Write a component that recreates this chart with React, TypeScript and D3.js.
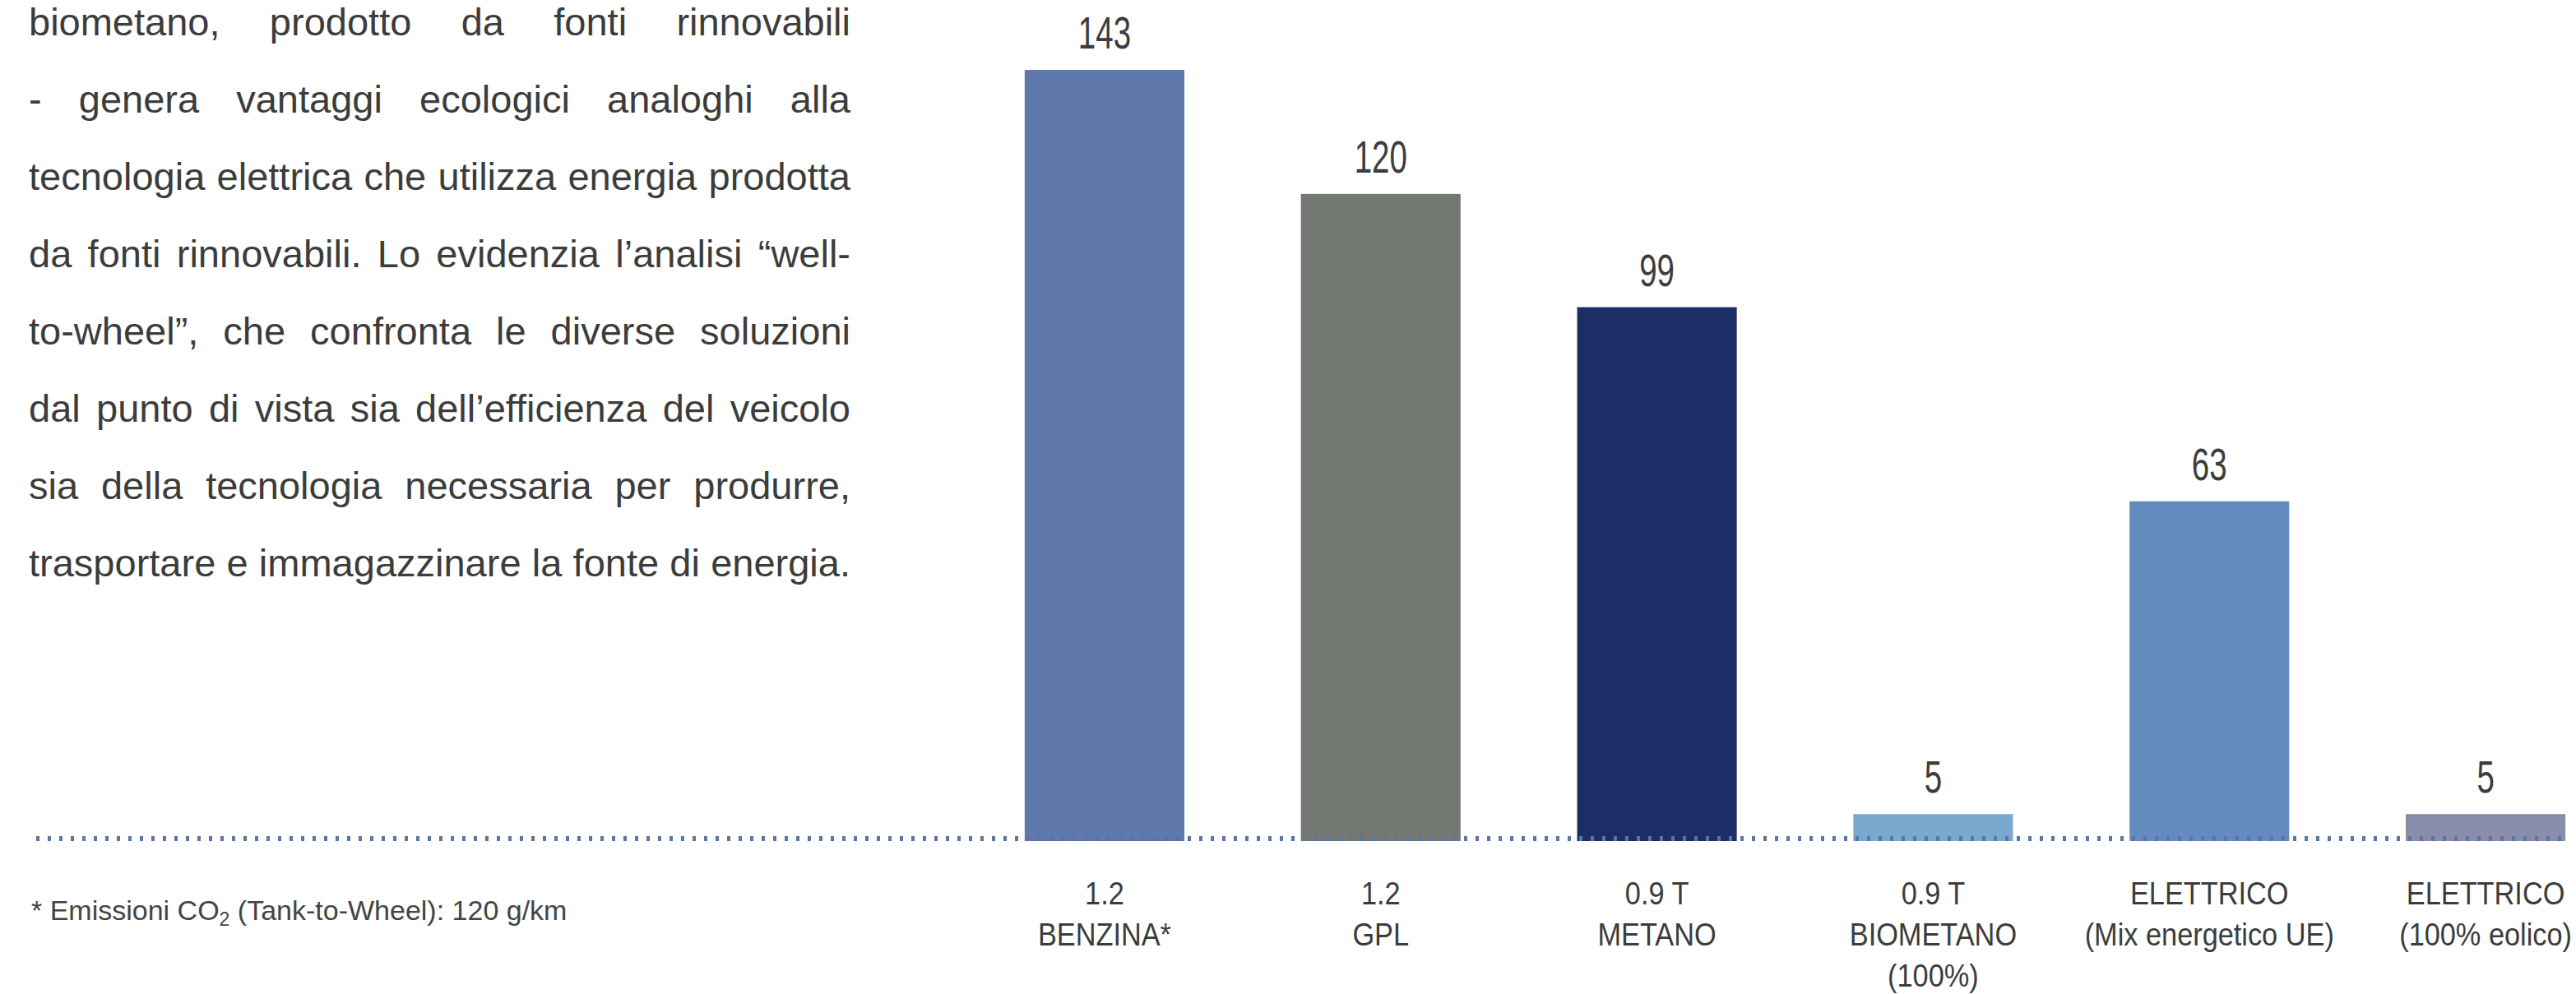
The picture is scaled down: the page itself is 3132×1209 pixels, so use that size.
import React, { useMemo } from 'react';
import * as d3 from 'd3';

// ---- data ----
const categories = ['benzina', 'gpl', 'metano', 'biometano', 'elettrico-ue', 'elettrico-eolico'];
const values = [143, 120, 99, 5, 63, 5];
const categoryLabels = [
  ['1.2', 'BENZINA*'],
  ['1.2', 'GPL'],
  ['0.9 T', 'METANO'],
  ['0.9 T', 'BIOMETANO', '(100%)'],
  ['ELETTRICO', '(Mix energetico UE)'],
  ['ELETTRICO', '(100% eolico)'],
];
const barColors = ['#5f79ad', '#737873', '#1b2f66', '#79aacd', '#648bbd', '#8a8cab'];
const paragraphLines = [
  'biometano, prodotto da fonti rinnovabili',
  '- genera vantaggi ecologici analoghi alla',
  'tecnologia elettrica che utilizza energia prodotta',
  'da fonti rinnovabili. Lo evidenzia l\u2019analisi \u201cwell-',
  'to-wheel\u201d, che confronta le diverse soluzioni',
  'dal punto di vista sia dell\u2019efficienza del veicolo',
  'sia della tecnologia necessaria per produrre,',
  'trasportare e immagazzinare la fonte di energia.',
];
const footnoteBefore = '* Emissioni CO';
const footnoteSub = '2';
const footnoteAfter = ' (Tank-to-Wheel): 120 g/km';

const W = 3132;
const H = 1209;
const FONT = '"Liberation Sans", Arial, Helvetica, sans-serif';
const TEXT = '#3c3c3c';

export default function App() {
  const x = d3
    .scaleBand<string>()
    .domain(categories)
    .range([1175, 3190])
    .paddingInner(0.422)
    .paddingOuter(0.211);
  const y = d3.scaleLinear().domain([0, 143]).range([1023, 85]);

  const paraSize = 47;
  const paraLeft = 35;
  const paraWidth = 999;
  const wordSpacings = useMemo(() => {
    const ctx = document.createElement('canvas').getContext('2d');
    if (!ctx) return paragraphLines.map(() => 0);
    ctx.font = `${paraSize}px "Liberation Sans"`;
    return paragraphLines.map((l) => {
      const w = ctx.measureText(l).width;
      const spaces = (l.match(/ /g) || []).length;
      return spaces ? (paraWidth - w) / spaces : 0;
    });
  }, []);

  return (
    <svg
      width={W}
      height={H}
      viewBox={`0 0 ${W} ${H}`}
      style={{ position: 'absolute', left: 0, top: 0, background: '#fff' }}
      fontFamily={FONT}
    >
      <rect x={0} y={0} width={W} height={H} fill="#fff" />
      {/* paragraph */}
      <g fill={TEXT} fontSize={paraSize}>
        {paragraphLines.map((l, i) => (
          <text
            key={i}
            x={paraLeft}
            y={43 + i * 94}
            style={{ wordSpacing: `${wordSpacings[i]}px` }}
          >
            {l}
          </text>
        ))}
      </g>

      {/* bars */}
      {values.map((v, i) => (
        <rect
          key={categories[i]}
          x={x(categories[i])}
          y={y(v)}
          width={x.bandwidth()}
          height={y(0) - y(v)}
          fill={barColors[i]}
        />
      ))}

      {/* dotted baseline */}
      <line
        x1={44}
        x2={(x(categories[categories.length - 1]) ?? 0) + x.bandwidth()}
        y1={y(0) - 3}
        y2={y(0) - 3}
        stroke="#5874a9"
        strokeWidth={6}
        strokeDasharray="4 10"
      />

      {/* value labels */}
      {values.map((v, i) => (
        <text
          key={'v' + i}
          transform={`translate(${(x(categories[i]) ?? 0) + x.bandwidth() / 2},${y(v) - 26}) scale(0.7,1)`}
          textAnchor="middle"
          fontSize={55}
          fill={TEXT}
        >
          {v}
        </text>
      ))}

      {/* category labels */}
      {categoryLabels.map((lines, i) =>
        lines.map((t, j) => (
          <text
            key={`c${i}-${j}`}
            transform={`translate(${(x(categories[i]) ?? 0) + x.bandwidth() / 2},${1100 + j * 50}) scale(0.88,1)`}
            textAnchor="middle"
            fontSize={39}
            fill={TEXT}
          >
            {t}
          </text>
        ))
      )}

      {/* footnote */}
      <text x={38} y={1119} fontSize={34} fill="#444">
        {footnoteBefore}
        <tspan fontSize={23} dy={7}>
          {footnoteSub}
        </tspan>
        <tspan dy={-7}>{footnoteAfter}</tspan>
      </text>
    </svg>
  );
}
